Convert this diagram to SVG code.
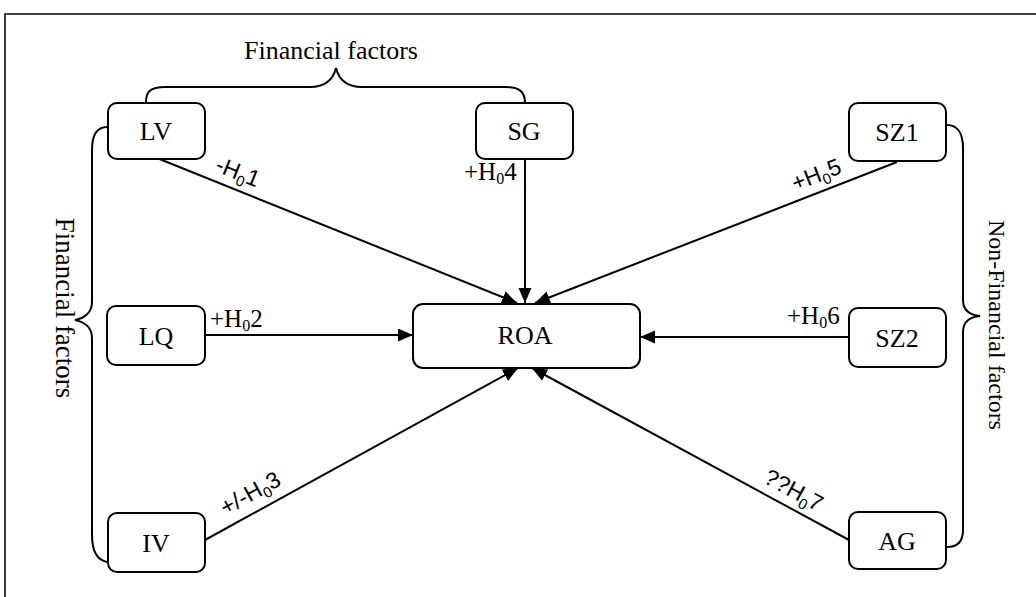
<svg xmlns="http://www.w3.org/2000/svg" width="1036" height="597" viewBox="0 0 1036 597">
<style>
.node rect{fill:#fff;stroke:#000;stroke-width:2}
.lbl{font-family:"Liberation Serif","Times New Roman",serif;font-size:26px;fill:#000;text-anchor:middle}
.brace{fill:none;stroke:#000;stroke-width:2}
.grp{font-family:"Liberation Serif","Times New Roman",serif;fill:#000;text-anchor:middle}
.h{font-family:"Liberation Serif","Times New Roman",serif;font-size:25px;fill:#000}
.hs{font-family:"Liberation Sans",Arial,sans-serif;font-size:23px;fill:#000;text-anchor:middle}
.c{stroke:#000;stroke-width:2;fill:none}
</style>
<defs>
<marker id="arr" markerUnits="userSpaceOnUse" markerWidth="16" markerHeight="14" refX="15" refY="6.5" orient="auto">
<path d="M0,0 L15,6.5 L0,13 z" fill="#000"/>
</marker>
</defs>
<rect x="0" y="0" width="1036" height="597" fill="#fff"/>
<path d="M5,597 L5,14 L1036,14" fill="none" stroke="#000" stroke-width="1.5"/>

<g id="braces">
<path class="brace" d="M146,102 C146,92 150,87 165,87 L310,87 C325,87 333,80 336,68 C339,80 347,87 362,87 L505,87 C520,87 525,92 525,103"/>
<path class="brace" d="M107,127 C97,127 92,135 92,150 L92,302 C92,312 85,318 75,320 C85,322 92,328 92,338 L92,535 C92,552 97,560 107,562"/>
<path class="brace" d="M947,125 C957,125 963,133 963,148 L963,300 C963,310 970,315 980,316 C970,317 963,322 963,332 L963,530 C963,542 957,547 947,547"/>
<text class="grp" font-size="26" x="331" y="59">Financial factors</text>
<text class="grp" font-size="27" transform="translate(56,308) rotate(90)">Financial factors</text>
<text class="grp" font-size="24" transform="translate(989,325) rotate(90)">Non-Financial factors</text>
</g>

<g id="connectors">
<line class="c" x1="157" y1="158" x2="517" y2="303" marker-end="url(#arr)"/>
<line class="c" x1="525" y1="158" x2="525" y2="303" marker-end="url(#arr)"/>
<line class="c" x1="897" y1="162" x2="535" y2="303" marker-end="url(#arr)"/>
<line class="c" x1="205" y1="335" x2="413" y2="335" stroke-width="1.3" marker-end="url(#arr)"/>
<line class="c" x1="849" y1="337" x2="640" y2="337" stroke-width="1.5" marker-end="url(#arr)"/>
<line class="c" x1="205" y1="540" x2="518" y2="368" marker-end="url(#arr)"/>
<line class="c" x1="849" y1="540" x2="532" y2="368" marker-end="url(#arr)"/>
<text class="hs" transform="translate(235,179) rotate(21.9)">-H<tspan font-size="15" dy="5">0</tspan><tspan dy="-5">1</tspan></text>
<text class="h" x="464" y="180">+H<tspan font-size="16" dy="4">0</tspan><tspan dy="-4">4</tspan></text>
<text class="hs" transform="translate(819,182) rotate(-21.3)">+H<tspan font-size="15" dy="5">0</tspan><tspan dy="-5">5</tspan></text>
<text class="h" x="210" y="327">+H<tspan font-size="16" dy="4">0</tspan><tspan dy="-4">2</tspan></text>
<text class="h" x="787" y="324">+H<tspan font-size="16" dy="4">0</tspan><tspan dy="-4">6</tspan></text>
<text class="hs" transform="translate(254,500) rotate(-28.8)">+/-H<tspan font-size="15" dy="5">0</tspan><tspan dy="-5">3</tspan></text>
<text class="hs" transform="translate(790,497) rotate(28.5)">??H<tspan font-size="15" dy="5">0</tspan><tspan dy="-5">7</tspan></text>
</g>

<g id="LV" class="node"><rect x="108" y="103" width="97" height="56" rx="9"/><text class="lbl" x="156" y="140">LV</text></g>
<g id="SG" class="node"><rect x="476" y="103" width="97" height="56" rx="9"/><text class="lbl" x="524" y="140">SG</text></g>
<g id="SZ1" class="node"><rect x="849" y="103" width="97" height="58" rx="9"/><text class="lbl" x="897" y="141">SZ1</text></g>
<g id="LQ" class="node"><rect x="107" y="306" width="98" height="59" rx="9"/><text class="lbl" x="156" y="345">LQ</text></g>
<g id="ROA" class="node"><rect x="413" y="304" width="227" height="64" rx="10"/><text class="lbl" x="525" y="344">ROA</text></g>
<g id="SZ2" class="node"><rect x="849" y="308" width="97" height="59" rx="9"/><text class="lbl" x="897" y="347">SZ2</text></g>
<g id="IV" class="node"><rect x="108" y="513" width="97" height="59" rx="9"/><text class="lbl" x="156" y="552">IV</text></g>
<g id="AG" class="node"><rect x="849" y="512" width="97" height="57" rx="9"/><text class="lbl" x="897" y="550">AG</text></g>
</svg>
